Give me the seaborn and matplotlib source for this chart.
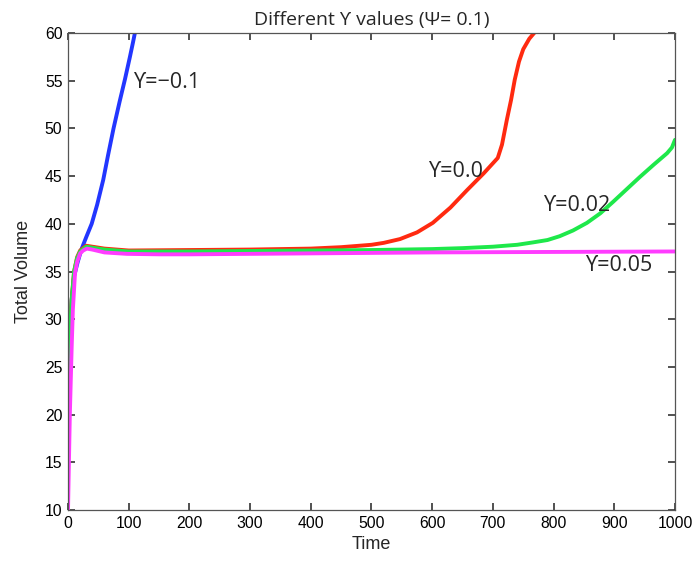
import matplotlib
matplotlib.use("Agg")
import matplotlib.pyplot as plt
import seaborn as sns
import pandas as pd

# ---- data ----
t_blue = [0, 3, 6, 10, 16, 22, 30, 39, 48, 58, 66, 75, 85, 94, 102, 107, 115]
v_blue = [22, 28, 32, 34.5, 36, 37.3, 38.6, 40, 42, 44.6, 47.2, 50, 52.8, 55.2,
          57.5, 59, 61.5]

t_red = [0, 3, 6, 10, 15, 20, 30, 40, 60, 100, 200, 300, 400, 450, 500, 520,
         547, 575, 601, 630, 657, 685, 708, 715, 723, 730, 736, 743, 750, 760,
         772, 790]
v_red = [22, 28, 32, 35, 36.5, 37.2, 37.7, 37.6, 37.4, 37.2, 37.25, 37.3, 37.4,
         37.55, 37.8, 38.0, 38.4, 39.1, 40.1, 41.7, 43.5, 45.3, 46.9, 48.3,
         50.9, 53.0, 55.1, 57.0, 58.3, 59.4, 60.3, 61]

t_green = [0, 3, 6, 10, 15, 20, 30, 40, 60, 100, 200, 300, 400, 500, 600, 650,
           700, 740, 766, 790, 810, 832, 855, 877, 898, 920, 942, 965, 987, 995,
           1000]
v_green = [22, 28, 32, 35, 36.4, 37.1, 37.6, 37.5, 37.3, 37.1, 37.1, 37.15, 37.2,
           37.25, 37.35, 37.45, 37.6, 37.8, 38.05, 38.3, 38.7, 39.3, 40.1, 41.1,
           42.3, 43.6, 44.9, 46.2, 47.4, 48.0, 48.8]

t_pink = [0, 3, 6, 8, 11.5, 15, 20, 25, 31, 40, 60, 97, 150, 200, 400, 600, 800, 1000]
v_pink = [10, 20, 27, 31, 34.8, 36, 36.9, 37.2, 37.4, 37.3, 37.0, 36.85, 36.8,
          36.8, 36.9, 37.0, 37.05, 37.1]

labels = ["ϒ=−0.1", "ϒ=0.0", "ϒ=0.02", "ϒ=0.05"]
label_pos_t = [107, 593, 783, 852]
label_pos_v = [54.8, 45.5, 41.9, 35.6]

x_ticks = list(range(0, 1001, 100))
y_ticks = list(range(10, 61, 5))

sns.set_theme(style="white")
plt.rcParams['font.family'] = ['Liberation Sans', 'DejaVu Sans']

fig = plt.figure(figsize=(6.94, 5.62), dpi=100)
ax = fig.add_axes([0.098, 0.0925, 0.8746, 0.8488])

series = [
    (t_blue, v_blue, "#2236ff"),
    (t_red, v_red, "#ff2a10"),
    (t_green, v_green, "#1ee84a"),
    (t_pink, v_pink, "#ff3cff"),
]
for t, v, c in series:
    df = pd.DataFrame({"t": t, "v": v})
    sns.lineplot(data=df, x="t", y="v", ax=ax, color=c, linewidth=2.8,
                 estimator=None, sort=False)

ax.set_xlim(0, 1000)
ax.set_ylim(10, 60)
ax.set_xticks(x_ticks)
ax.set_yticks(y_ticks)
ax.tick_params(axis="both", which="major", direction="in", length=5, width=1.1,
               color="#222222", labelcolor="black", labelsize=11.3, pad=4,
               bottom=True, top=True, left=True, right=True)
for s in ax.spines.values():
    s.set_color("#555555")
    s.set_linewidth(0.9)

ax.set_xlabel("Time", fontsize=13, labelpad=4)
ax.set_ylabel("Total Volume", fontsize=13, labelpad=9)
ax.set_title("Different ϒ values (Ψ= 0.1)", fontsize=14, pad=6,
             family=['Open Sans', 'DejaVu Sans'])

for lab, tx, vy in zip(labels, label_pos_t, label_pos_v):
    ax.text(tx, vy, lab, fontsize=15.5, va="center", ha="left",
            family=['Open Sans', 'DejaVu Sans'])

fig.savefig("out.png", dpi=100)
